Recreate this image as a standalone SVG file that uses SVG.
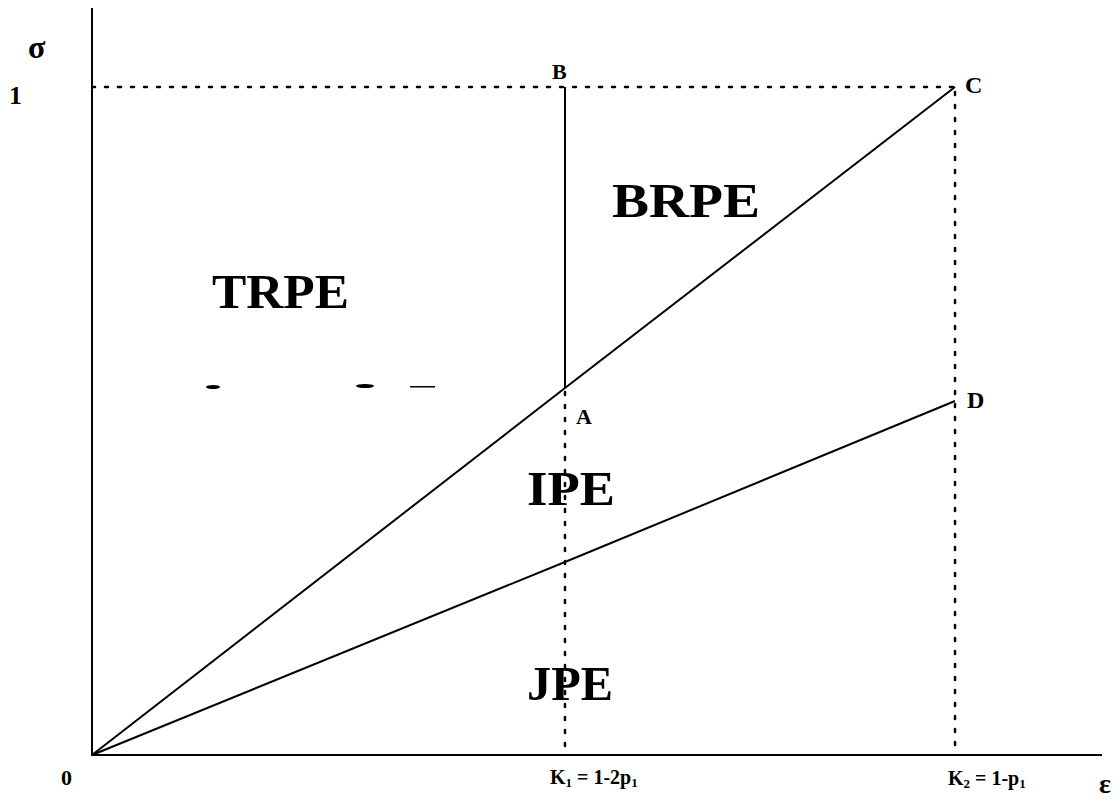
<svg xmlns="http://www.w3.org/2000/svg" width="1120" height="807" viewBox="0 0 1120 807">
<style>
.ax{stroke:#000;stroke-width:2;fill:none}
.ln{stroke:#000;stroke-width:2;fill:none;stroke-linejoin:round}
.dot{stroke:#000;stroke-width:2.5;fill:none;stroke-dasharray:3 10;stroke-linecap:round}
.big{font-family:"Liberation Serif",serif;font-weight:bold;font-size:48px;fill:#000}
.lab{font-family:"Liberation Serif",serif;font-weight:bold;font-size:22px;fill:#000}
</style>
<rect width="1120" height="807" fill="#fff"/>
<g id="axes">
<line class="ax" x1="92" y1="8" x2="92" y2="756"/>
<line class="ax" x1="91" y1="755" x2="1102" y2="755"/>
</g>
<g id="connectors">
<line class="dot" x1="92" y1="87" x2="955" y2="87"/>
<line class="dot" x1="565" y1="392" x2="565" y2="753"/>
<line class="dot" x1="955" y1="92" x2="955" y2="753"/>
<line class="ln" x1="565" y1="87" x2="565" y2="388"/>
<polyline class="ln" points="92,755 565,388 955,87"/>
<polyline class="ln" points="92,755 565,562 955,401"/>
</g>
<g id="artifacts" fill="#000">
<ellipse cx="213" cy="387" rx="7" ry="2"/>
<ellipse cx="365" cy="386" rx="9" ry="2"/>
<rect x="410" y="386" width="25" height="1.5"/>
</g>
<g id="labels">
<text class="lab" x="28" y="58" style="font-size:32px">σ</text>
<text class="lab" x="9" y="104" style="font-size:26px">1</text>
<text class="lab" x="552" y="79">B</text>
<text class="lab" x="965" y="93" style="font-size:24px">C</text>
<text class="lab" x="576" y="424">A</text>
<text class="lab" x="967" y="408" style="font-size:24px">D</text>
<text class="lab" x="61" y="785">0</text>
<text class="lab" x="550" y="784" style="font-size:20px">K<tspan font-size="13" dy="3">1</tspan><tspan dy="-3"> = 1-2p</tspan><tspan font-size="13" dy="3">1</tspan></text>
<text class="lab" x="948" y="785" style="font-size:20px">K<tspan font-size="13" dy="3">2</tspan><tspan dy="-3"> = 1-p</tspan><tspan font-size="13" dy="3">1</tspan></text>
<text class="lab" x="1099" y="793" style="font-size:28px">ε</text>
</g>
<g id="regions">
<text class="big" x="612" y="217" textLength="148" lengthAdjust="spacingAndGlyphs">BRPE</text>
<text class="big" x="212" y="308" textLength="137" lengthAdjust="spacingAndGlyphs">TRPE</text>
<text class="big" x="527" y="505" textLength="88" lengthAdjust="spacingAndGlyphs">IPE</text>
<text class="big" x="527" y="700" textLength="86" lengthAdjust="spacingAndGlyphs">JPE</text>
</g>
</svg>
